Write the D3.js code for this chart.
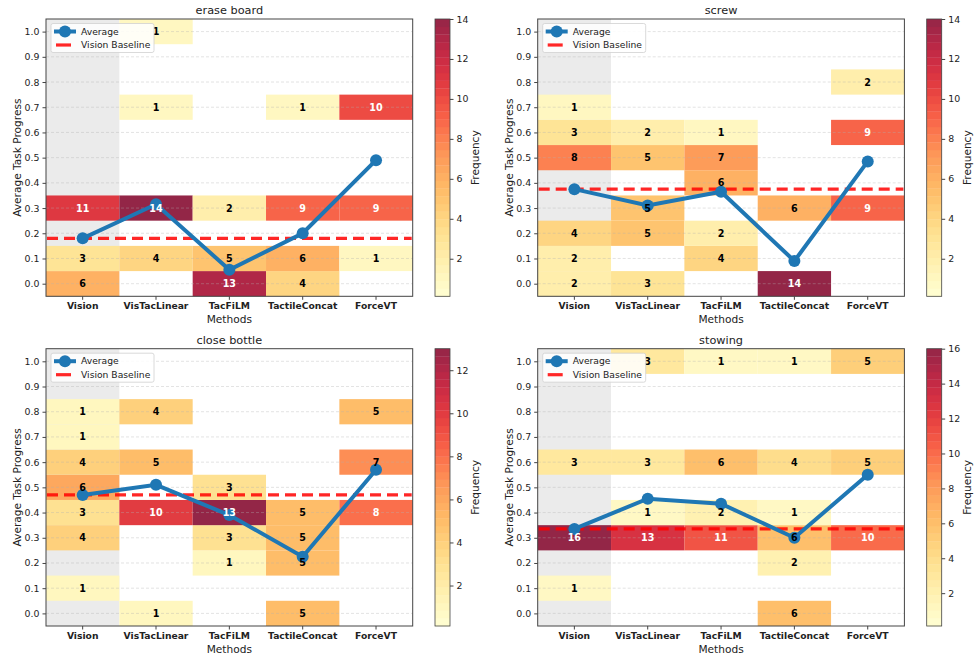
<!DOCTYPE html>
<html>
<head>
<meta charset="utf-8">
<script src="https://cdn.jsdelivr.net/npm/d3@7"></script>
<style>
  body { margin: 0; background: #fff; }
  text { font-family: "DejaVu Sans", sans-serif; fill: #222; }
</style>
</head>
<body>
<svg id="paper"></svg>
<script>
// progress levels (rows) and methods (columns)
let levels = [0.0, 0.1, 0.2, 0.3, 0.4, 0.5, 0.6, 0.7, 0.8, 0.9, 1.0];
let methods = ["Vision", "VisTacLinear", "TacFiLM", "TactileConcat", "ForceVT"];
let tasks = ["erase board", "screw", "close bottle", "stowing"];

// counts per method, indexed by level 0.0 .. 1.0
let eraseBoard = [
    [6, 3, 0, 11, 0, 0, 0, 0, 0, 0, 0],
    [0, 4, 0, 14, 0, 0, 0, 1, 0, 0, 1],
    [13, 5, 0, 2, 0, 0, 0, 0, 0, 0, 0],
    [4, 6, 0, 9, 0, 0, 0, 1, 0, 0, 0],
    [0, 1, 0, 9, 0, 0, 0, 10, 0, 0, 0]
];
let screw = [
    [2, 2, 4, 0, 0, 8, 3, 1, 0, 0, 0],
    [3, 0, 5, 5, 0, 5, 2, 0, 0, 0, 0],
    [0, 4, 2, 0, 6, 7, 1, 0, 0, 0, 0],
    [14, 0, 0, 6, 0, 0, 0, 0, 0, 0, 0],
    [0, 0, 0, 9, 0, 0, 9, 0, 2, 0, 0]
];
let closeBottle = [
    [0, 1, 0, 4, 3, 6, 4, 1, 1, 0, 0],
    [1, 0, 0, 0, 10, 0, 5, 0, 4, 0, 0],
    [0, 0, 1, 3, 13, 3, 0, 0, 0, 0, 0],
    [5, 0, 5, 5, 5, 0, 0, 0, 0, 0, 0],
    [0, 0, 0, 0, 8, 0, 7, 0, 5, 0, 0]
];
let stowing = [
    [0, 1, 0, 16, 0, 0, 3, 0, 0, 0, 0],
    [0, 0, 0, 13, 1, 0, 3, 0, 0, 0, 3],
    [0, 0, 0, 11, 2, 0, 6, 0, 0, 0, 1],
    [6, 0, 2, 6, 1, 0, 4, 0, 0, 0, 1],
    [0, 0, 0, 10, 0, 0, 5, 0, 0, 0, 5]
];
let taskCounts = [eraseBoard, screw, closeBottle, stowing];

let yTicks = [0.0, 0.1, 0.2, 0.3, 0.4, 0.5, 0.6, 0.7, 0.8, 0.9, 1.0];
let cbarTicks = [2, 4, 6, 8, 10, 12, 14, 16];

let W = 976, H = 657;
let svg = d3.select("#paper").attr("width", W).attr("height", H);

let axW = 366.7, axH = 277.3;
let origins = [[46, 19], [537.7, 19], [46, 348.7], [537.7, 348.7]];
let vmin = 0.12;
let cellAlpha = 0.85;

function blend(c, a) {
    let col = d3.rgb(c);
    return d3.rgb(255 - a * (255 - col.r), 255 - a * (255 - col.g), 255 - a * (255 - col.b)).formatHex();
}

tasks.forEach((task, ti) => {
    let counts = taskCounts[ti];
    let [ox, oy] = origins[ti];
    let g = svg.append("g").attr("transform", "translate(" + ox + "," + oy + ")");

    let x = d3.scaleBand().domain(methods).range([0, axW]).padding(0);
    let y = d3.scaleLinear().domain([-0.05, 1.05]).range([axH, 0]);
    let vmax = d3.max(counts, c => d3.max(c));
    let color = d3.scaleLinear().domain([vmin, vmax]).range([0, 1]).clamp(true);
    let fill = v => blend(d3.interpolateYlOrRd(color(v)), cellAlpha);

    let averages = counts.map(c => d3.sum(c, (n, i) => n * levels[i]) / d3.sum(c));
    let baseline = averages[0];

    // grey highlight behind Vision column
    g.append("rect")
        .attr("x", x("Vision")).attr("y", 0)
        .attr("width", x.bandwidth()).attr("height", axH)
        .attr("fill", "#ebebeb");

    let cells = [];
    counts.forEach((c, mi) => c.forEach((n, li) => {
        if (n > 0) cells.push({method: methods[mi], level: levels[li], n: n});
    }));

    g.selectAll(".cell")
        .data(cells)
        .enter()
        .append("rect")
        .classed("cell", true)
        .attr("x", d => x(d.method))
        .attr("y", d => y(d.level + 0.05))
        .attr("width", x.bandwidth())
        .attr("height", d => y(d.level - 0.05) - y(d.level + 0.05))
        .attr("fill", d => fill(d.n));

    // grid
    g.selectAll(".grid")
        .data(yTicks)
        .enter()
        .append("line")
        .attr("x1", 0).attr("x2", axW)
        .attr("y1", d => y(d)).attr("y2", d => y(d))
        .attr("stroke", "#b0b0b0")
        .attr("stroke-opacity", 0.45)
        .attr("stroke-width", 0.8)
        .attr("stroke-dasharray", "3,2");

    // vision baseline
    g.append("line")
        .attr("x1", 1).attr("x2", axW - 1)
        .attr("y1", y(baseline)).attr("y2", y(baseline))
        .attr("stroke", "#ff0000")
        .attr("stroke-opacity", 0.85)
        .attr("stroke-width", 3.2)
        .attr("stroke-dasharray", "11,6");

    // average line
    let cx = m => x(m) + x.bandwidth() / 2;
    g.append("path")
        .datum(averages)
        .attr("d", d3.line().x((d, i) => cx(methods[i])).y(d => y(d)))
        .attr("fill", "none")
        .attr("stroke", "#1f77b4")
        .attr("stroke-width", 4);
    g.selectAll(".dot")
        .data(averages)
        .enter()
        .append("circle")
        .attr("cx", (d, i) => cx(methods[i]))
        .attr("cy", d => y(d))
        .attr("r", 6)
        .attr("fill", "#1f77b4");

    // cell labels
    g.selectAll(".cell_label")
        .data(cells)
        .enter()
        .append("text")
        .attr("x", d => cx(d.method))
        .attr("y", d => y(d.level) + 3.5)
        .style("text-anchor", "middle")
        .style("font-size", "9.6px")
        .style("font-weight", "bold")
        .style("fill", d => d.n > 0.6 * vmax ? "#fff" : "#000")
        .text(d => d.n);

    // frame
    g.append("rect")
        .attr("width", axW).attr("height", axH)
        .attr("fill", "none").attr("stroke", "#444").attr("stroke-width", 1);

    // y axis
    let yAxis = g.append("g").call(d3.axisLeft(y).tickValues(yTicks).tickFormat(d3.format(".1f")).tickSize(3.5).tickPadding(3));
    yAxis.select(".domain").remove();
    yAxis.selectAll("line").attr("stroke", "#444");
    yAxis.selectAll("text").style("font-size", "9.4px").style("font-family", "DejaVu Sans").attr("fill", "#222");

    // x axis
    let xAxis = g.append("g").attr("transform", "translate(0," + axH + ")")
        .call(d3.axisBottom(x).tickSize(3.5).tickPadding(3));
    xAxis.select(".domain").remove();
    xAxis.selectAll("line").attr("stroke", "#444");
    xAxis.selectAll("text").style("font-size", "9.2px").style("font-weight", "bold")
        .style("font-family", "DejaVu Sans").attr("fill", "#111");

    g.append("text")
        .attr("x", axW / 2).attr("y", axH + 27)
        .style("text-anchor", "middle").style("font-size", "10.6px")
        .text("Methods");
    g.append("text")
        .attr("transform", "translate(-25," + axH / 2 + ") rotate(-90)")
        .style("text-anchor", "middle").style("font-size", "10.6px")
        .text("Average Task Progress");
    g.append("text")
        .attr("x", axW / 2).attr("y", -5)
        .style("text-anchor", "middle").style("font-size", "11.3px")
        .text(task);

    // legend
    let lg = g.append("g").attr("transform", "translate(5,4.5)");
    lg.append("rect")
        .attr("width", 103).attr("height", 29).attr("rx", 2)
        .attr("fill", "#fff").attr("fill-opacity", 0.85)
        .attr("stroke", "#d0d0d0").attr("stroke-width", 0.8);
    lg.append("line").attr("x1", 3).attr("x2", 25).attr("y1", 8).attr("y2", 8)
        .attr("stroke", "#1f77b4").attr("stroke-width", 4);
    lg.append("circle").attr("cx", 14).attr("cy", 8).attr("r", 6).attr("fill", "#1f77b4");
    lg.append("line").attr("x1", 5).attr("x2", 20).attr("y1", 21.5).attr("y2", 21.5)
        .attr("stroke", "#ff0000").attr("stroke-opacity", 0.85).attr("stroke-width", 3.2);
    lg.append("text").attr("x", 30).attr("y", 11.3).style("font-size", "9.2px").text("Average");
    lg.append("text").attr("x", 30).attr("y", 24.8).style("font-size", "9.2px").text("Vision Baseline");

    // colorbar
    let cb = g.append("g").attr("transform", "translate(389,0)");
    let cbW = 15;
    let cy = d3.scaleLinear().domain([vmin, vmax]).range([axH, 0]);
    let bands = d3.range(0, 36);
    let step = (vmax - vmin) / bands.length;
    cb.selectAll(".band")
        .data(bands)
        .enter()
        .append("rect")
        .attr("x", 0)
        .attr("y", d => cy(vmin + (d + 1) * step))
        .attr("width", cbW)
        .attr("height", d => cy(vmin + d * step) - cy(vmin + (d + 1) * step) + 0.3)
        .attr("fill", d => fill(vmin + (d + 0.5) * step));
    cb.append("rect").attr("width", cbW).attr("height", axH)
        .attr("fill", "none").attr("stroke", "#444").attr("stroke-width", 0.8);
    let cAxis = cb.append("g").attr("transform", "translate(" + cbW + ",0)")
        .call(d3.axisRight(cy).tickValues(cbarTicks.filter(t => t <= vmax)).tickSize(3.5).tickPadding(3));
    cAxis.select(".domain").remove();
    cAxis.selectAll("line").attr("stroke", "#444");
    cAxis.selectAll("text").style("font-size", "9.4px").style("font-family", "DejaVu Sans").attr("fill", "#222");
    cb.append("text")
        .attr("transform", "translate(44," + axH / 2 + ") rotate(-90)")
        .style("text-anchor", "middle").style("font-size", "10.6px")
        .text("Frequency");
});
</script>
</body>
</html>
